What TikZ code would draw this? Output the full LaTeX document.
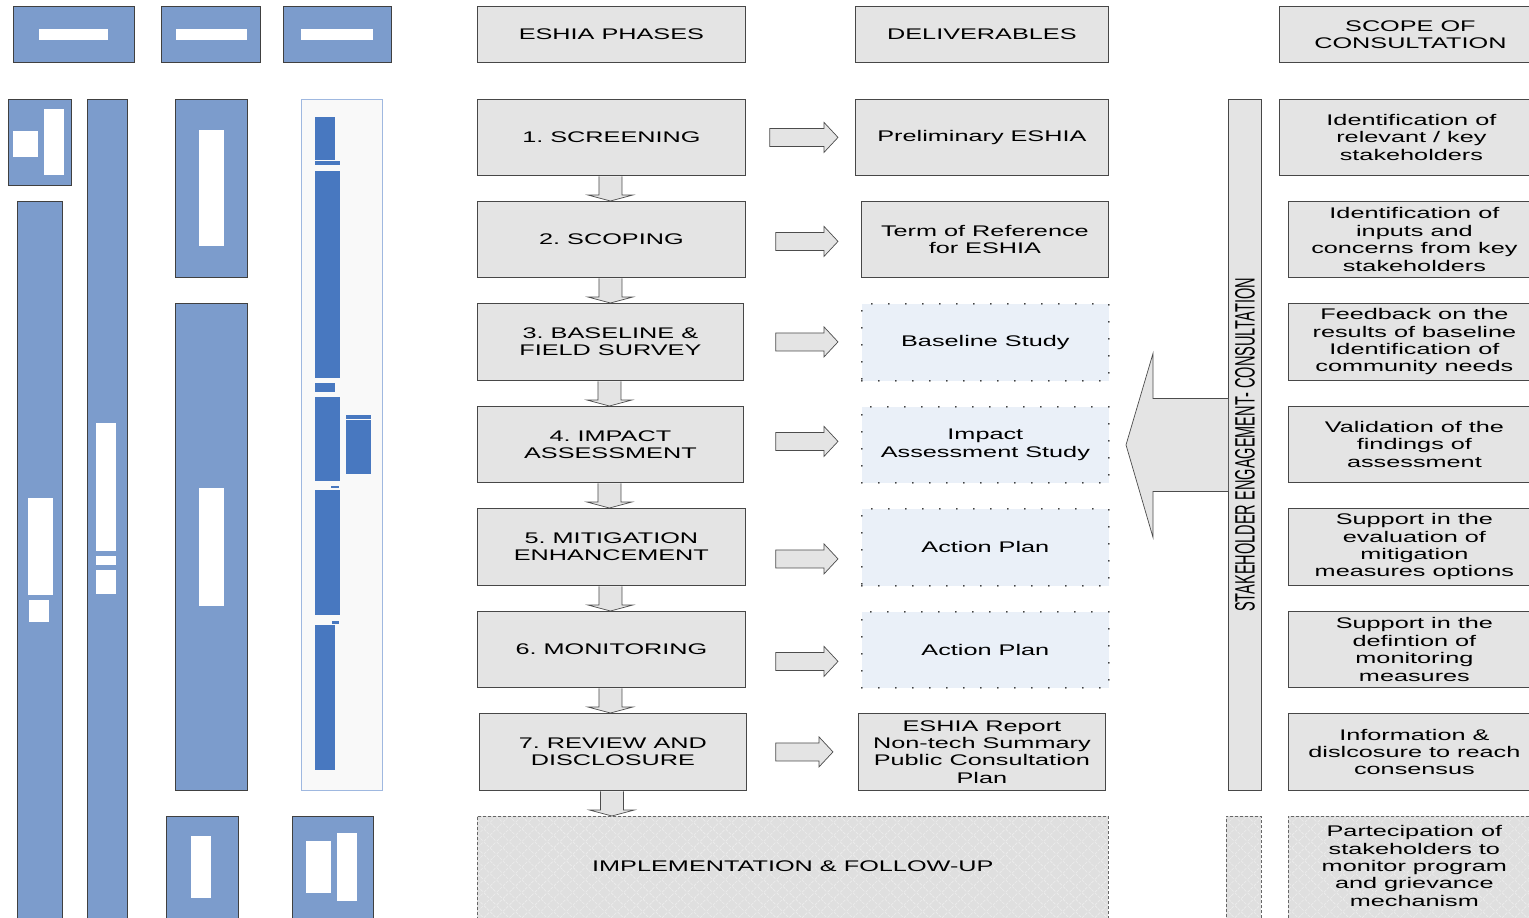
\documentclass[tikz,border=0pt]{standalone}
\usepackage{fontspec}
\setmainfont{Liberation Sans}[FakeStretch=1.64]
\newfontfamily\vertfont{Liberation Sans}[FakeStretch=0.52]
\usepackage{tikz}
\usetikzlibrary{arrows.meta,calc,patterns.meta}

\definecolor{boxgray}{HTML}{E4E4E4}
\definecolor{dotblue}{HTML}{EAF0F8}
\definecolor{bluefill}{HTML}{7C9CCC}
\definecolor{darkblue}{HTML}{4878C0}
\definecolor{panelline}{HTML}{9FB8E0}
\definecolor{hatchgray}{HTML}{DFDFDF}
\frenchspacing

\begin{document}
\begin{tikzpicture}[x=1pt,y=-1pt,
    font=\fontsize{15.4}{17.4}\selectfont,
    graybox/.style={draw=black!72, fill=boxgray, line width=0.8pt, inner sep=0pt, align=center, anchor=north west},
    dotbox/.style={fill=dotblue, draw=black, line width=1.7pt, dash pattern=on 0pt off 17pt, line cap=round, inner sep=0pt, align=center, anchor=north west},
    hatchbox/.style={preaction={fill=hatchgray},
        preaction={pattern={Lines[angle=45,distance=9pt,line width=0.6pt]}, pattern color=white!45!hatchgray},
        preaction={pattern={Lines[angle=-45,distance=9pt,line width=0.6pt]}, pattern color=white!45!hatchgray},
        draw=black!60, line width=0.7pt, dash pattern=on 3pt off 2pt, inner sep=0pt, align=center, anchor=north west},
    bluebox/.style={draw=black!75, fill=bluefill, line width=1pt},
    fatarrow/.style={draw=black!70, fill=boxgray, line width=0.7pt, line join=miter}]
    \useasboundingbox (0,0) rectangle (1529,918);

    % 左侧色块
    \foreach \xa/\ya/\xb/\yb in {13/6/134/62, 161/6/260/62, 283/6/391/62, 8/99/71/185,
        87/99/127/930, 17/201/62/930, 175/99/247/277, 175/303/247/790, 166/816/238/930, 292/816/373/930}
        \draw[bluebox] (\xa,\ya) rectangle (\xb,\yb);
    \foreach \xa/\ya/\xb/\yb in {39/29/108/40, 176/29/247/40, 301/29/373/40, 13/131/38/157, 44/109/64/175,
        96/423/116/551, 96/556/116/565, 96/570/116/594, 28/498/53/595, 29/600/49/622,
        199/130/224/246, 199/488/224/606, 191/836/211/898, 306/841/331/893, 337/833/357/901}
        \fill[white] (\xa,\ya) rectangle (\xb,\yb);
    \draw[panelline, fill=black!2.5, line width=1pt] (301,99) rectangle (382,790);
    \foreach \xa/\ya/\xb/\yb in {315/117/335/160, 315/161/340/165, 315/171/340/378, 315/383/335/392,
        315/397/340/481, 315/490/340/615, 315/625/335/770, 346/415/371/419, 346/420/371/474,
        331/486/339/488, 332/621/339/624}
        \fill[darkblue] (\xa,\ya) rectangle (\xb,\yb);

    % 表头
    \node[graybox, minimum width=268pt, minimum height=56pt] (hphase) at (477,6) {ESHIA PHASES};
    \node[graybox, minimum width=253pt, minimum height=56pt] (hdeliv) at (855,6) {DELIVERABLES};
    \node[graybox, minimum width=262pt, minimum height=56pt] (hscope) at (1279,6) {SCOPE OF\\CONSULTATION};

    % 阶段
    \node[graybox, minimum width=268pt, minimum height=76pt] (p1) at (477,99) {1. SCREENING};
    \node[graybox, minimum width=268pt, minimum height=76pt] (p2) at (477,201) {2. SCOPING};
    \node[graybox, minimum width=266pt, minimum height=77pt] (p3) at (477,303) {3. BASELINE \&\\FIELD SURVEY};
    \node[graybox, minimum width=266pt, minimum height=76pt] (p4) at (477,406) {4. IMPACT\\ASSESSMENT};
    \node[graybox, minimum width=268pt, minimum height=77pt] (p5) at (477,508) {5. MITIGATION\\ENHANCEMENT};
    \node[graybox, minimum width=268pt, minimum height=76pt] (p6) at (477,611) {6. MONITORING};
    \node[graybox, minimum width=267pt, minimum height=77pt] (p7) at (479,713) {7. REVIEW AND\\DISCLOSURE};
    \node[hatchbox, minimum width=631pt, minimum height=112pt] (impl) at (477,816) {};
    \node (impllbl) at ($(impl.north)+(0,50)$) {IMPLEMENTATION \& FOLLOW-UP};

    % 成果
    \node[graybox, minimum width=253pt, minimum height=76pt] (d1) at (855,99) {Preliminary ESHIA};
    \node[graybox, minimum width=247pt, minimum height=76pt] (d2) at (861,201) {Term of Reference\\for ESHIA};
    \node[dotbox, minimum width=247pt, minimum height=77pt] (d3) at (861,303) {Baseline Study};
    \node[dotbox, minimum width=247pt, minimum height=76pt] (d4) at (861,406) {Impact\\Assessment Study};
    \node[dotbox, minimum width=247pt, minimum height=77pt] (d5) at (861,508) {Action Plan};
    \node[dotbox, minimum width=247pt, minimum height=76pt] (d6) at (861,611) {Action Plan};
    \node[graybox, minimum width=247pt, minimum height=77pt] (d7) at (858,713) {ESHIA Report\\Non-tech Summary\\Public Consultation\\Plan};

    % 咨询范围
    \node[graybox, minimum width=264pt, minimum height=76pt] (s1) at (1279,99) {Identification of\\relevant / key\\stakeholders};
    \node[graybox, minimum width=252pt, minimum height=76pt] (s2) at (1288,201) {Identification of\\inputs and\\concerns from key\\stakeholders};
    \node[graybox, minimum width=252pt, minimum height=77pt] (s3) at (1288,303) {Feedback on the\\results of baseline\\Identification of\\community needs};
    \node[graybox, minimum width=252pt, minimum height=76pt] (s4) at (1288,406) {Validation of the\\findings of\\assessment};
    \node[graybox, minimum width=252pt, minimum height=77pt] (s5) at (1288,508) {Support in the\\evaluation of\\mitigation\\measures options};
    \node[graybox, minimum width=252pt, minimum height=76pt] (s6) at (1288,611) {Support in the\\defintion of\\monitoring\\measures};
    \node[graybox, minimum width=252pt, minimum height=77pt] (s7) at (1288,713) {Information \&\\dislcosure to reach\\consensus};
    \node[hatchbox, minimum width=252pt, minimum height=112pt] (s8) at (1288,816) {};
    \node[align=center] (s8lbl) at ($(s8.north)+(0,50)$) {Partecipation of\\stakeholders to\\monitor program\\and grievance\\mechanism};

    % 利益相关方竖条
    \node[graybox, minimum width=33pt, minimum height=691pt] (stake) at (1228,99) {};
    \node[rotate=90, font=\vertfont\fontsize{28}{30}\selectfont] (stakelbl) at (stake.center) {STAKEHOLDER ENGAGEMENT- CONSULTATION};
    \node[hatchbox, minimum width=35pt, minimum height=112pt] (stakefoot) at (1226,816) {};

    % 向下箭头
    \foreach \i/\j in {p1/p2, p2/p3, p3/p4, p4/p5, p5/p6, p6/p7, p7/impl} {
        \coordinate (tip) at ($(\i.south |- \j.north)+(-1,0)$);
        \draw[fatarrow] ($(\i.south)+(-12.5,0.5)$) -- ($(tip)+(-11.5,-6)$) -- ($(tip)+(-22.5,-6)$) -- (tip)
            -- ($(tip)+(22.5,-6)$) -- ($(tip)+(11.5,-6)$) -- ($(\i.south)+(10.5,0.5)$);
    }

    % 向右箭头
    \foreach \i/\so/\to/\dy in {1/24/-17/0, 2/30/-23/2, 3/32/-23/0, 4/32/-23/-3, 5/30/-23/12, 6/30/-23/12, 7/29/-25/0} {
        \coordinate (s) at ($(p\i.east)+(\so,\dy)$);
        \coordinate (t0) at ($(d\i.west)+(\to,0)$);
        \coordinate (t) at (t0 |- s);
        \draw[fatarrow] ($(s)+(0,-9)$) -- ($(t)+(-14,-9)$) -- ($(t)+(-14,-15)$) -- (t)
            -- ($(t)+(-14,15)$) -- ($(t)+(-14,9)$) -- ($(s)+(0,9)$) -- cycle;
    }

    % 大箭头
    \coordinate (bigtip) at ($(stake.west)+(-102,0)$);
    \draw[fatarrow] ($(stake.west)+(0,-46.5)$) -- ($(stake.west)+(-75,-46.5)$) -- ($(stake.west)+(-75,-91.5)$)
        -- (bigtip) -- ($(stake.west)+(-75,92.5)$) -- ($(stake.west)+(-75,46.5)$) -- ($(stake.west)+(0,46.5)$);
\end{tikzpicture}
\end{document}
